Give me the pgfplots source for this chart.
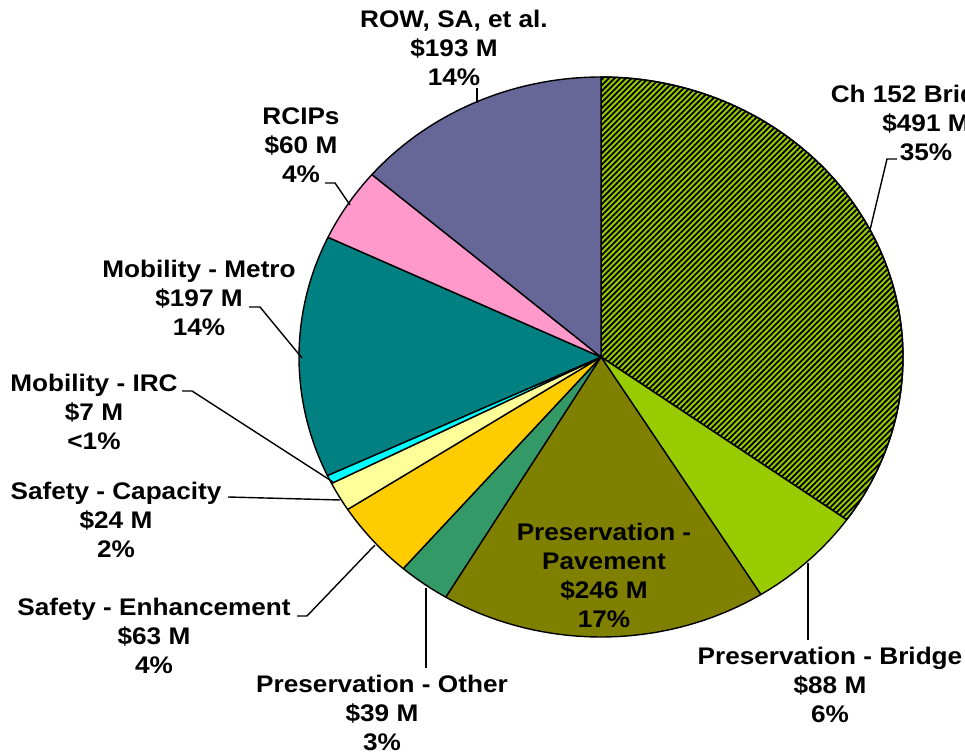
\documentclass[border=0pt]{standalone}
\usepackage{pgfplots}
\pgfplotsset{compat=1.18}
\usepackage{fontspec}
\setmainfont{Liberation Sans}[FakeStretch=1.09]
\usetikzlibrary{patterns.meta}
\definecolor{cROW}{HTML}{666699}
\definecolor{cLime}{HTML}{99CC00}
\definecolor{cPave}{HTML}{808000}
\definecolor{cOther}{HTML}{339966}
\definecolor{cEnh}{HTML}{FFCC00}
\definecolor{cCap}{HTML}{FFFF99}
\definecolor{cIRC}{HTML}{00FFFF}
\definecolor{cMetro}{HTML}{008080}
\definecolor{cRCIP}{HTML}{FF99CC}
\tikzset{lbl/.style={align=center, font=\bfseries\fontsize{12}{14.5}\selectfont, inner sep=0pt}}
% values ($M): Ch152 491, Pres-Bridge 88, Pres-Pavement 246, Pres-Other 39,
% Safety-Enh 63, Safety-Cap 24, Mob-IRC 7, Mob-Metro 197, RCIPs 60, ROW 193 (total 1408)
\begin{document}
\begin{tikzpicture}
\begin{axis}[name=ax, at={(0,0)}, anchor=south west, scale only axis,
  width=482.5pt, height=377.5pt, xmin=0, xmax=965, ymin=0, ymax=755,
  axis lines=none, clip=false,
  every axis plot/.append style={draw=black, line width=0.7pt, samples=90, line join=round}]
\addplot[fill=cLime, postaction={pattern={Lines[angle=45,distance=2pt,line width=0.9pt]}, pattern color=black}, domain=0:491]
  ({601+302*sin(360*x/1408)},{398+280*cos(360*x/1408)}) -- (axis cs:601,398) -- cycle;
\addplot[fill=cLime, domain=491:579]
  ({601+302*sin(360*x/1408)},{398+280*cos(360*x/1408)}) -- (axis cs:601,398) -- cycle;
\addplot[fill=cPave, domain=579:825]
  ({601+302*sin(360*x/1408)},{398+280*cos(360*x/1408)}) -- (axis cs:601,398) -- cycle;
\addplot[fill=cOther, domain=825:864]
  ({601+302*sin(360*x/1408)},{398+280*cos(360*x/1408)}) -- (axis cs:601,398) -- cycle;
\addplot[fill=cEnh, domain=864:927]
  ({601+302*sin(360*x/1408)},{398+280*cos(360*x/1408)}) -- (axis cs:601,398) -- cycle;
\addplot[fill=cCap, domain=927:951]
  ({601+302*sin(360*x/1408)},{398+280*cos(360*x/1408)}) -- (axis cs:601,398) -- cycle;
\addplot[fill=cIRC, domain=951:958]
  ({601+302*sin(360*x/1408)},{398+280*cos(360*x/1408)}) -- (axis cs:601,398) -- cycle;
\addplot[fill=cMetro, domain=958:1155]
  ({601+302*sin(360*x/1408)},{398+280*cos(360*x/1408)}) -- (axis cs:601,398) -- cycle;
\addplot[fill=cRCIP, domain=1155:1215]
  ({601+302*sin(360*x/1408)},{398+280*cos(360*x/1408)}) -- (axis cs:601,398) -- cycle;
\addplot[fill=cROW, domain=1215:1408]
  ({601+302*sin(360*x/1408)},{398+280*cos(360*x/1408)}) -- (axis cs:601,398) -- cycle;

% leader lines
\draw[line width=0.7pt] (axis cs:477,667) -- (axis cs:477,652);
\draw[line width=0.7pt] (axis cs:897,596) -- (axis cs:887,596) -- (axis cs:870,525);
\draw[line width=0.7pt] (axis cs:325,572) -- (axis cs:335,572) -- (axis cs:350,550);
\draw[line width=0.7pt] (axis cs:249,448) -- (axis cs:260,448) -- (axis cs:302,397);
\draw[line width=0.7pt] (axis cs:182,364) -- (axis cs:192,364) -- (axis cs:333,273);
\draw[line width=0.7pt] (axis cs:228,258) -- (axis cs:340,255);
\draw[line width=0.7pt] (axis cs:297,139) -- (axis cs:307,139) -- (axis cs:375,210);
\draw[line width=0.7pt] (axis cs:426,167) -- (axis cs:426,87);
\draw[line width=0.7pt] (axis cs:808,192) -- (axis cs:808,115);

% labels
\node[lbl] at (axis cs:454,707) {ROW, SA, et al.\\\$193 M\\14\%};
\node[lbl] at (axis cs:926,632) {Ch 152 Bridges\\\$491 M\\35\%};
\node[lbl] at (axis cs:301,610) {RCIPs\\\$60 M\\4\%};
\node[lbl] at (axis cs:199,457) {Mobility - Metro\\\$197 M\\14\%};
\node[lbl] at (axis cs:94,343) {Mobility - IRC\\\$7 M\\<1\%};
\node[lbl] at (axis cs:116,235) {Safety - Capacity\\\$24 M\\2\%};
\node[lbl] at (axis cs:154,119) {Safety - Enhancement\\\$63 M\\4\%};
\node[lbl] at (axis cs:382,42) {Preservation - Other\\\$39 M\\3\%};
\node[lbl] at (axis cs:830,70) {Preservation - Bridge\\\$88 M\\6\%};
\node[lbl] at (axis cs:604,180) {Preservation -\\Pavement\\\$246 M\\17\%};
\end{axis}
\pgfresetboundingbox
\path[use as bounding box] (ax.south west) rectangle (ax.north east);
\end{tikzpicture}
\end{document}
